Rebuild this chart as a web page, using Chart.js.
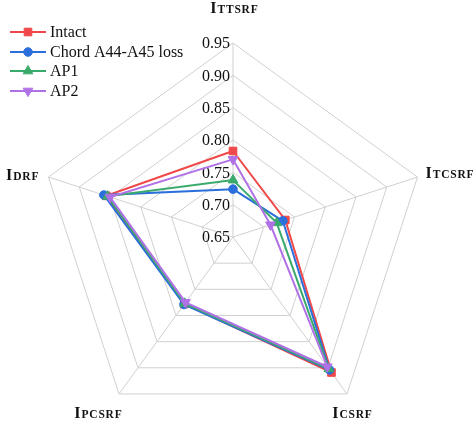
<!DOCTYPE html>
<html>
<head>
<meta charset="utf-8">
<script src="https://cdn.jsdelivr.net/npm/chart.js@4.4.1/dist/chart.umd.min.js"></script>
<style>
  html, body { margin: 0; padding: 0; background: #ffffff; }
  #wrap { width: 474px; height: 425px; position: relative; }
</style>
</head>
<body>
<div id="wrap"><canvas id="c"></canvas></div>
<script>
// ---- data ----
const axisLabels = ['ITTSRF', 'ITCSRF', 'ICSRF', 'IPCSRF', 'IDRF'];
const seriesNames = ['Intact', 'Chord A44-A45 loss', 'AP1', 'AP2'];
const intact = [0.783, 0.735, 0.909, 0.778, 0.856];
const chordLoss = [0.724, 0.731, 0.904, 0.779, 0.860];
const ap1 = [0.738, 0.721, 0.902, 0.777, 0.854];
const ap2 = [0.770, 0.711, 0.898, 0.775, 0.850];
const scaleMin = 0.65, scaleMax = 0.95, scaleStep = 0.05;

const SERIF = "'Liberation Serif', 'Times New Roman', serif";
const colors = ['#f04848', '#2a6fdb', '#3aaa6c', '#b071e6'];
const styles = [
  { pointStyle: 'rect', rotation: 0, radius: 5.4 },
  { pointStyle: 'circle', rotation: 0, radius: 4.3 },
  { pointStyle: 'triangle', rotation: 0, radius: 5.6 },
  { pointStyle: 'triangle', rotation: 180, radius: 5.6 }
];
const values = [intact, chordLoss, ap1, ap2];

const datasets = values.map((v, i) => ({
  label: seriesNames[i],
  data: v,
  borderColor: colors[i],
  backgroundColor: colors[i],
  borderWidth: 2,
  fill: false,
  pointStyle: styles[i].pointStyle,
  pointRotation: styles[i].rotation,
  pointRadius: styles[i].radius,
  pointHoverRadius: styles[i].radius,
  pointBackgroundColor: colors[i],
  pointBorderColor: colors[i],
  pointBorderWidth: 1,
  order: 3 - i
}));

function drawMarker(ctx, st, color, x, y) {
  ctx.save();
  ctx.fillStyle = color; ctx.strokeStyle = color; ctx.lineWidth = 1;
  if (Chart.helpers && Chart.helpers.drawPoint) {
    Chart.helpers.drawPoint(ctx, { pointStyle: st.pointStyle, rotation: st.rotation, radius: st.radius, borderWidth: 1 }, x, y);
  } else {
    ctx.beginPath(); ctx.arc(x, y, st.radius, 0, Math.PI * 2); ctx.fill();
  }
  ctx.restore();
}

// tick labels: right aligned just left of the top axis
const tickLabelPlugin = {
  id: 'tickLabels',
  beforeDatasetsDraw(chart) {
    const s = chart.scales.r, ctx = chart.ctx;
    ctx.save();
    ctx.font = '16px ' + SERIF;
    ctx.fillStyle = '#111111';
    ctx.textAlign = 'right';
    ctx.textBaseline = 'middle';
    s.ticks.forEach(t => {
      const d = s.getDistanceFromCenterForValue(t.value);
      ctx.fillText(Number(t.value).toFixed(2), s.xCenter - 3, s.yCenter - d + 1);
    });
    ctx.restore();
  }
};

// point labels with small-caps look
const labelPos = [
  { dx: 1, dy: -30, align: 'center' },
  { dx: 8, dy: 1, align: 'left' },
  { dx: 5, dy: 24, align: 'center' },
  { dx: -21, dy: 24, align: 'center' },
  { dx: -10, dy: 3, align: 'right' }
];
const pointLabelPlugin = {
  id: 'pointLabelsSC',
  afterDraw(chart) {
    const s = chart.scales.r, ctx = chart.ctx;
    ctx.save();
    ctx.fillStyle = '#111111';
    ctx.textBaseline = 'alphabetic';
    axisLabels.forEach((lab, i) => {
      const p = s.getPointPosition(i, s.drawingArea);
      const big = lab.charAt(0), rest = lab.slice(1);
      const bigFont = 'bold 16px ' + SERIF, smallFont = 'bold 11.5px ' + SERIF;
      const sp = 0.8;
      ctx.font = bigFont; const wb = ctx.measureText(big).width + 1;
      ctx.font = smallFont;
      let ws = 0;
      for (const ch of rest) ws += ctx.measureText(ch).width + sp;
      const total = wb + ws - sp;
      const lp = labelPos[i];
      let x = p.x + lp.dx;
      if (lp.align === 'center') x -= total / 2;
      else if (lp.align === 'right') x -= total;
      const y = p.y + lp.dy;
      ctx.textAlign = 'left';
      ctx.font = bigFont; ctx.fillText(big, x, y);
      x += wb;
      ctx.font = smallFont;
      for (const ch of rest) { ctx.fillText(ch, x, y); x += ctx.measureText(ch).width + sp; }
    });
    ctx.restore();
  }
};

// legend: line + marker + text, top-left
const legendPlugin = {
  id: 'customLegend',
  afterDraw(chart) {
    const ctx = chart.ctx;
    const rows = [32, 52, 71, 91];
    chart.data.datasets.forEach((ds, i) => {
      const y = rows[i];
      ctx.save();
      ctx.strokeStyle = colors[i]; ctx.lineWidth = 2;
      ctx.beginPath(); ctx.moveTo(10, y); ctx.lineTo(46, y); ctx.stroke();
      ctx.restore();
      drawMarker(ctx, styles[i], colors[i], 28, y);
      ctx.save();
      ctx.font = '16px ' + SERIF;
      ctx.fillStyle = '#111111';
      ctx.textAlign = 'left'; ctx.textBaseline = 'middle';
      ctx.fillText(ds.label, 50, y + 1);
      ctx.restore();
    });
  }
};

new Chart(document.getElementById('c'), {
  type: 'radar',
  data: { labels: axisLabels, datasets: datasets },
  options: {
    responsive: true,
    maintainAspectRatio: false,
    animation: false,
    plugins: { legend: { display: false }, tooltip: { enabled: false } },
    elements: { line: { tension: 0 } },
    scales: {
      r: {
        min: scaleMin,
        max: scaleMax,
        ticks: { stepSize: scaleStep, display: false },
        pointLabels: { display: false },
        grid: { color: '#d0d0d0', lineWidth: 1 },
        angleLines: { color: '#d0d0d0', lineWidth: 1 },
        afterFit(s) { s.xCenter = 233; s.yCenter = 237; s.drawingArea = 194; }
      }
    }
  },
  plugins: [tickLabelPlugin, pointLabelPlugin, legendPlugin]
});
</script>
</body>
</html>
